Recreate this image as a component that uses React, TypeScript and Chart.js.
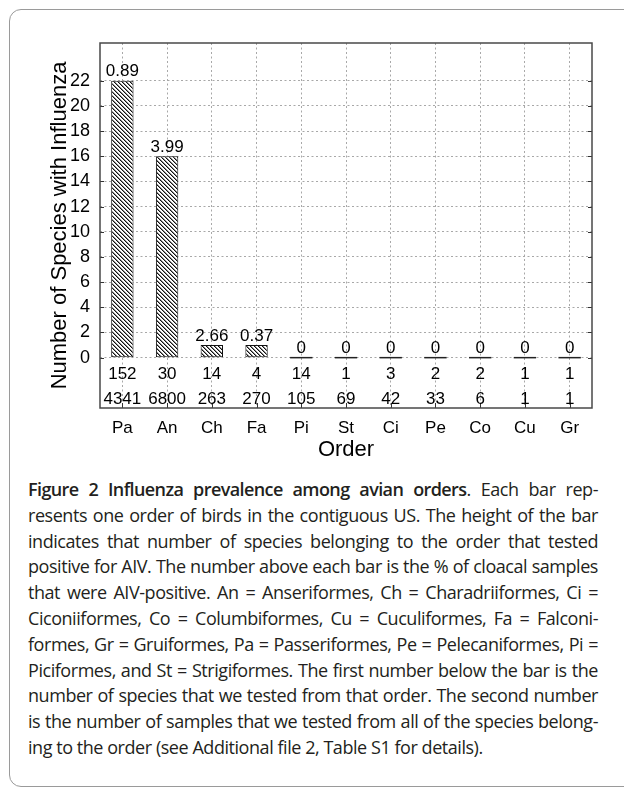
import React, { useEffect, useRef } from 'react';
import { Chart, registerables } from 'chart.js';

Chart.register(...registerables);

// ---- data ----
const ORDERS = ['Pa', 'An', 'Ch', 'Fa', 'Pi', 'St', 'Ci', 'Pe', 'Co', 'Cu', 'Gr'];
const SPECIES_POSITIVE = [22, 16, 1, 1, 0, 0, 0, 0, 0, 0, 0];
const PCT_POSITIVE = ['0.89', '3.99', '2.66', '0.37', '0', '0', '0', '0', '0', '0', '0'];
const SPECIES_TESTED = [152, 30, 14, 4, 14, 1, 3, 2, 2, 1, 1];
const SAMPLES_TESTED = [4341, 6800, 263, 270, 105, 69, 42, 33, 6, 1, 1];
const Y_TICKS = [0, 2, 4, 6, 8, 10, 12, 14, 16, 18, 20, 22];
const Y_MIN = -4;
const Y_MAX = 25;
const Y_TITLE = 'Number of Species with Influenza';
const X_TITLE = 'Order';

const FONT = '"Liberation Sans", Arial, Helvetica, sans-serif';

const CAPTION_LINES: { bold?: string; text: string; last?: boolean }[] = [
  { bold: 'Figure 2 Influenza prevalence among avian orders', text: '. Each bar rep-' },
  { text: 'resents one order of birds in the contiguous US. The height of the bar' },
  { text: 'indicates that number of species belonging to the order that tested' },
  { text: 'positive for AIV. The number above each bar is the % of cloacal samples' },
  { text: 'that were AIV-positive. An = Anseriformes, Ch = Charadriiformes, Ci =' },
  { text: 'Ciconiiformes, Co = Columbiformes, Cu = Cuculiformes, Fa = Falconi-' },
  { text: 'formes, Gr = Gruiformes, Pa = Passeriformes, Pe = Pelecaniformes, Pi =' },
  { text: 'Piciformes, and St = Strigiformes. The first number below the bar is the' },
  { text: 'number of species that we tested from that order. The second number' },
  { text: 'is the number of samples that we tested from all of the species belong-' },
  { text: 'ing to the order (see Additional file 2, Table S1 for details).', last: true },
];

function makeHatch(): CanvasPattern | string {
  const pc = document.createElement('canvas');
  pc.width = 4;
  pc.height = 4;
  const p = pc.getContext('2d');
  if (!p) return '#888';
  p.fillStyle = '#ffffff';
  p.fillRect(0, 0, 4, 4);
  for (let i = 0; i < 4; i++) {
    p.fillStyle = '#111';
    p.fillRect(i, i, 1, 1);
    p.fillStyle = '#8a8a8a';
    p.fillRect((i + 1) % 4, i, 1, 1);
  }
  return p.createPattern(pc, 'repeat') || '#888';
}

const annotPlugin = {
  id: 'annot',
  afterDraw(chart: any) {
    const { ctx, chartArea: a, scales } = chart;
    const x = scales.x;
    const y = scales.y;
    const line = (x1: number, y1: number, x2: number, y2: number) => {
      ctx.beginPath();
      ctx.moveTo(x1, y1);
      ctx.lineTo(x2, y2);
      ctx.stroke();
    };
    ctx.save();
    // inward tick marks
    ctx.strokeStyle = '#333';
    ctx.lineWidth = 1;
    Y_TICKS.forEach((v) => {
      const py = Math.round(y.getPixelForValue(v)) + 0.5;
      line(a.left, py, a.left + 4, py);
      line(a.right, py, a.right - 4, py);
    });
    ORDERS.forEach((_, i) => {
      const px = Math.round(x.getPixelForValue(i)) + 0.5;
      line(px, a.bottom, px, a.bottom - 5);
    });
    // frame
    ctx.strokeStyle = '#484848';
    ctx.lineWidth = 1.5;
    ctx.strokeRect(a.left, a.top, a.right - a.left, a.bottom - a.top);

    const y0 = y.getPixelForValue(0);
    const meta = chart.getDatasetMeta(0);
    ctx.fillStyle = '#000';
    ctx.textAlign = 'center';
    ctx.textBaseline = 'alphabetic';
    meta.data.forEach((bar: any, i: number) => {
      const { x: bx, y: by, width } = bar.getProps(['x', 'y', 'width'], true);
      if (SPECIES_POSITIVE[i] === 0) {
        ctx.strokeStyle = '#222';
        ctx.lineWidth = 1.5;
        line(bx - width / 2, y0, bx + width / 2, y0);
      }
      ctx.font = `17px ${FONT}`;
      ctx.fillText(PCT_POSITIVE[i], bx, by - 4.5);
      ctx.fillText(String(SPECIES_TESTED[i]), bx, y0 + 21.5);
      ctx.fillText(String(SAMPLES_TESTED[i]), bx, y0 + 46);
    });

    // axis titles
    ctx.font = `22px ${FONT}`;
    ctx.fillText(X_TITLE, (a.left + a.right) / 2, 456);
    ctx.translate(66, (a.top + a.bottom) / 2);
    ctx.rotate(-Math.PI / 2);
    ctx.fillText(Y_TITLE, 0, 0);
    ctx.restore();
  },
};

export default function App() {
  const ref = useRef<HTMLCanvasElement | null>(null);

  useEffect(() => {
    const canvas = ref.current;
    if (!canvas) return;
    const hatch = makeHatch();
    const chart = new Chart(canvas, {
      type: 'bar',
      data: {
        labels: ORDERS,
        datasets: [
          {
            data: SPECIES_POSITIVE,
            backgroundColor: hatch as any,
            borderColor: '#111',
            borderWidth: 1,
            borderSkipped: false,
            barPercentage: 0.5,
            categoryPercentage: 1,
          },
        ],
      },
      options: {
        responsive: false,
        animation: false,
        devicePixelRatio: 1,
        layout: { padding: { left: 0, top: 43, right: 32, bottom: 0 } },
        plugins: {
          legend: { display: false },
          tooltip: { enabled: false },
          title: { display: false },
        },
        scales: {
          x: {
            type: 'category',
            offset: true,
            grid: { offset: false, color: '#a8a8a8', lineWidth: 1, drawTicks: false },
            border: { display: false, dash: [2, 2.5] },
            ticks: {
              color: '#000',
              font: { family: FONT, size: 17 },
              padding: 10,
              maxRotation: 0,
              autoSkip: false,
            },
            afterFit: (scale: any) => {
              scale.height = 62;
            },
          },
          y: {
            min: Y_MIN,
            max: Y_MAX,
            grid: { color: '#a8a8a8', lineWidth: 1, drawTicks: false },
            border: { display: false, dash: [2, 2.5] },
            afterBuildTicks: (scale: any) => {
              scale.ticks = Y_TICKS.map((v) => ({ value: v }));
            },
            ticks: {
              color: '#000',
              font: { family: FONT, size: 18 },
              padding: 10,
            },
            afterFit: (scale: any) => {
              scale.width = 100;
            },
          },
        },
      },
      plugins: [annotPlugin],
    });
    return () => chart.destroy();
  }, []);

  return (
    <div
      style={{
        position: 'absolute',
        left: 0,
        top: 0,
        width: 624,
        height: 791,
        overflow: 'hidden',
        background: '#fff',
      }}
    >
      <div
        style={{
          position: 'absolute',
          left: 9,
          top: 9,
          width: 640,
          height: 778,
          border: '1px solid #9a9a9a',
          borderRadius: 12,
          boxSizing: 'border-box',
        }}
      />
      <canvas
        ref={ref}
        width={624}
        height={470}
        style={{ position: 'absolute', left: 0, top: 0, width: 624, height: 470 }}
      />
      <div
        style={{
          position: 'absolute',
          left: 28,
          top: 477,
          width: 570,
          fontFamily: '"Open Sans", "Noto Sans", sans-serif',
          fontSize: 18,
          fontStretch: '95%',
          letterSpacing: '-0.45px',
          color: '#231f20',
        }}
      >
        {CAPTION_LINES.map((l, i) => (
          <div
            key={i}
            style={{
              height: 25.8,
              lineHeight: '25.8px',
              whiteSpace: 'nowrap',
              textAlign: l.last ? 'left' : 'justify',
              textAlignLast: l.last ? 'left' : 'justify',
            }}
          >
            {l.bold ? (
              <b style={{ fontWeight: 650, fontStretch: '90%', letterSpacing: '-0.6px' }}>
                {l.bold}
              </b>
            ) : null}
            {l.text}
          </div>
        ))}
      </div>
    </div>
  );
}
